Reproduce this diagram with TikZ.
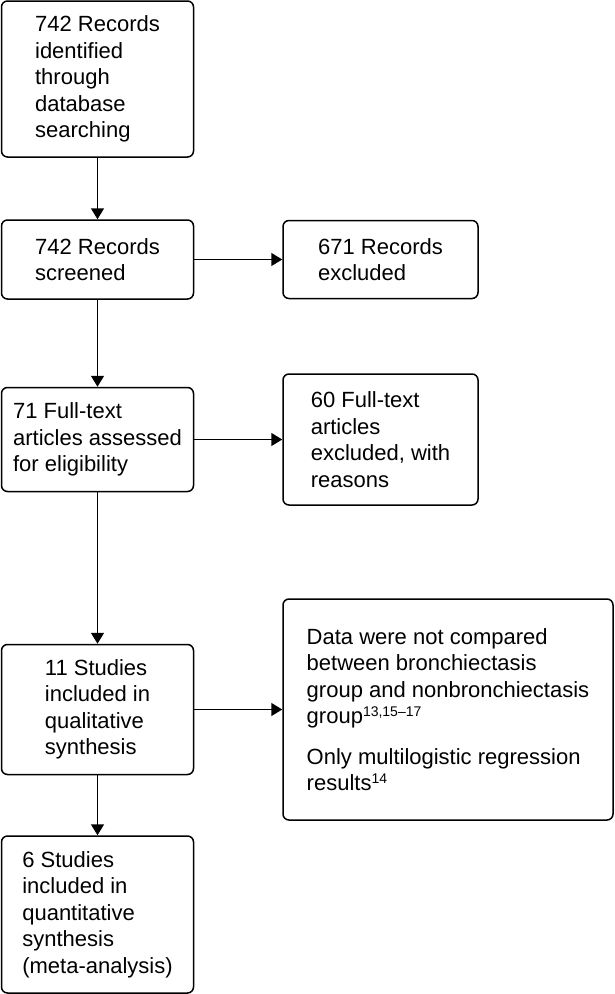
\documentclass[tikz,border=0pt]{standalone}
\usepackage{fontspec}
\setmainfont{Liberation Sans}
\usetikzlibrary{arrows.meta}
\newcommand{\refsup}[1]{\raisebox{7pt}{\fontsize{14pt}{14pt}\selectfont #1}}

\begin{document}
\begin{tikzpicture}[x=1pt,y=-1pt,
  box/.style={draw,line width=1.5pt,rounded corners=6pt,align=left,inner sep=0pt,
    font=\fontsize{22pt}{26.5pt}\selectfont},
  arr/.style={line width=1.5pt,-{Triangle[length=11pt,width=13pt]}}]
\useasboundingbox (0,0) rectangle (614,994);
\node[box,minimum width=192pt,minimum height=156pt] (ident) at (97.5,79)
  {742 Records\\identified\\through\\database\\searching};
\node[box,minimum width=192pt,minimum height=79pt] (screen) at (97.5,259.5)
  {742 Records\\screened};
\node[box,minimum width=195pt,minimum height=78pt] (recex) at (380.5,259.5)
  {671 Records\\excluded};
\node[box,minimum width=192pt,minimum height=104pt] (fulltxt) at (97.5,439.5)
  {71 Full-text\\articles assessed\\for eligibility};
\node[box,minimum width=195pt,minimum height=131pt] (fullex) at (380.5,439.5)
  {60 Full-text\\articles\\excluded, with\\reasons};
\node[box,minimum width=192pt,minimum height=130pt] (qual) at (97.5,709.5)
  {11 Studies\\included in\\qualitative\\synthesis};
\node[box,minimum width=330pt,minimum height=221pt] (why) at (448,709.5)
  {Data were not compared\\between bronchiectasis\\group and nonbronchiectasis\\group\refsup{13,15–17}\\[14pt]Only multilogistic regression\\results\refsup{14}};
\node[box,minimum width=192pt,minimum height=157pt] (quant) at (97.5,914.5)
  {6 Studies\\included in\\quantitative\\synthesis\\(meta-analysis)};
\foreach \a/\b in {ident/screen,screen/fulltxt,fulltxt/qual,qual/quant}
  \draw[arr] (\a) -- (\b);
\foreach \a/\b in {screen/recex,fulltxt/fullex,qual/why}
  \draw[arr] (\a.east) -- (\a.east -| \b.west);
\end{tikzpicture}
\end{document}
